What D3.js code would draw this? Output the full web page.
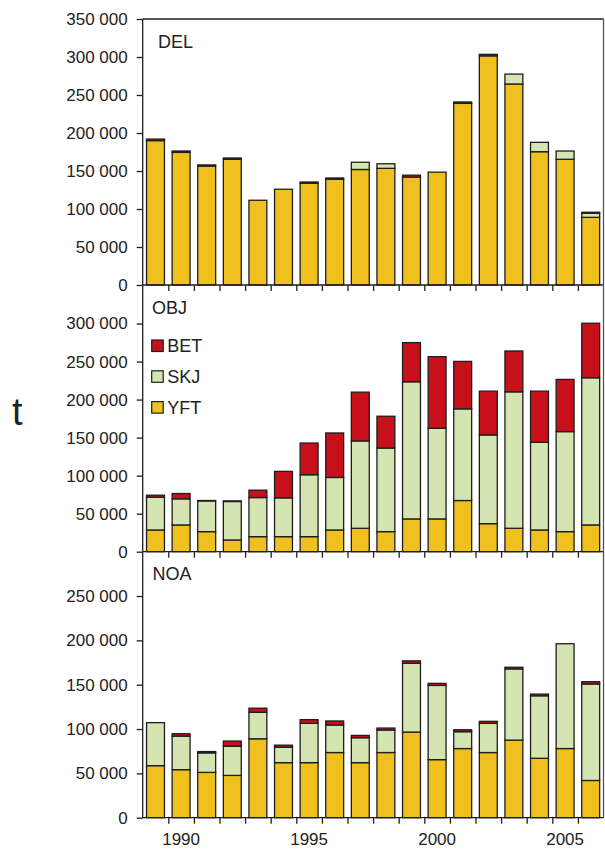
<!DOCTYPE html>
<html>
<head>
<meta charset="utf-8">
<script src="https://cdn.jsdelivr.net/npm/d3@7"></script>
<style>
  html, body { margin: 0; padding: 0; background: #ffffff; }
  svg { display: block; font-family: "Liberation Sans", Arial, sans-serif; }
</style>
</head>
<body>
<svg id="chart" width="605" height="850"></svg>
<script>
// Catch (tonnes) by set type, 1989–2006
const years = d3.range(1989, 2007);
const species = ["YFT", "SKJ", "BET"];
const yearLabels = [1990, 1995, 2000, 2005];

// Dolphin-associated sets
const delYFT = [190000, 174500, 156500, 165500, 111500, 126000, 134000, 139300, 152000, 153500, 142000, 148500, 239000, 301500, 264500, 175400, 165400, 89000];
const delSKJ = [0, 0, 0, 0, 0, 0, 0, 0, 9500, 6000, 0, 0, 0, 0, 13000, 12300, 10900, 5500];
const delBET = [2000, 1800, 1500, 1600, 0, 0, 1500, 1500, 0, 0, 2500, 0, 1800, 2000, 0, 0, 0, 1200];

// Floating-object sets
const objYFT = [28600, 35200, 26400, 15400, 19800, 19800, 19800, 28600, 30800, 26400, 43100, 43100, 67300, 36900, 30800, 28600, 26400, 35200];
const objSKJ = [43100, 34300, 40400, 50600, 51400, 51000, 81400, 69000, 114800, 109900, 180300, 119200, 120500, 116600, 179400, 115200, 131500, 193500];
const objBET = [2600, 7000, 500, 800, 9700, 34800, 41700, 58500, 64200, 41800, 51500, 94100, 62400, 57600, 53700, 67300, 68600, 71700];

// Unassociated sets
const noaYFT = [58700, 54200, 51100, 47700, 89000, 62100, 62100, 73500, 62100, 73500, 96600, 65500, 78000, 73500, 87500, 67000, 78000, 42000];
const noaSKJ = [48500, 37800, 22000, 33000, 29900, 17400, 44300, 31000, 28100, 25400, 77600, 83700, 19000, 32900, 80300, 70500, 118200, 108800];
const noaBET = [0, 2700, 1500, 5700, 4600, 2300, 4200, 4600, 2600, 2200, 2700, 2300, 2200, 2300, 1900, 1900, 0, 2600];

const delTicks = [0, 50000, 100000, 150000, 200000, 250000, 300000, 350000];
const objTicks = [0, 50000, 100000, 150000, 200000, 250000, 300000];
const noaTicks = [0, 50000, 100000, 150000, 200000, 250000];

const colors = { YFT: "#f0c01e", SKJ: "#d5e5b2", BET: "#c8101a" };
const ink = "#1e1e1e";

function rows(yft, skj, bet) {
  return years.map((yr, i) => ({ year: yr, YFT: yft[i], SKJ: skj[i], BET: bet[i] }));
}

const panels = [
  { name: "DEL", data: rows(delYFT, delSKJ, delBET), max: 350000, ticks: delTicks, top: 19, bottom: 285, titleX: 158 },
  { name: "OBJ", data: rows(objYFT, objSKJ, objBET), max: 350000, ticks: objTicks, top: 285.5, bottom: 551.7, titleX: 152 },
  { name: "NOA", data: rows(noaYFT, noaSKJ, noaBET), max: 300000, ticks: noaTicks, top: 551.7, bottom: 817.7, titleX: 152.5 }
];

const left = 142.7, right = 603.5;
const svg = d3.select("#chart");

const x = d3.scaleBand().domain(years).range([left, right]).paddingInner(0.3).paddingOuter(0.15);
const step = x.step();
// continuous year scale for ticks placed between the bars
const xl = d3.scaleLinear().domain([1988.5, 2006.5]).range([left, left + step * years.length]);

const fmt = d3.formatLocale({ decimal: ".", thousands: " ", grouping: [3], currency: ["", ""] }).format(",d");
const stack = d3.stack().keys(species);

panels.forEach(p => {
  const y = d3.scaleLinear().domain([0, p.max]).range([p.bottom, p.top]);
  const g = svg.append("g");

  // stacked bars
  const layers = stack(p.data);
  g.selectAll("g.layer").data(layers).join("g")
    .attr("class", "layer")
    .attr("fill", d => colors[d.key])
    .selectAll("rect").data(d => d.filter(s => s[1] - s[0] > 0)).join("rect")
    .attr("x", d => x(d.data.year))
    .attr("width", x.bandwidth())
    .attr("y", d => y(d[1]))
    .attr("height", d => y(d[0]) - y(d[1]))
    .attr("stroke", ink)
    .attr("stroke-width", 1.3);

  // frame: top edge on the first panel, right edge on all
  if (p.name === "DEL") {
    g.append("line")
      .attr("x1", left).attr("x2", right).attr("y1", p.top).attr("y2", p.top)
      .attr("stroke", ink).attr("stroke-width", 1.3);
  }
  g.append("line")
    .attr("x1", right).attr("x2", right).attr("y1", p.top).attr("y2", p.bottom)
    .attr("stroke", "#555").attr("stroke-width", 1.3);

  // y axis
  const ya = g.append("g").attr("transform", `translate(${left},0)`)
    .call(d3.axisLeft(y).tickValues(p.ticks).tickFormat(fmt).tickSize(6).tickPadding(9));
  ya.select(".domain").attr("stroke", ink).attr("stroke-width", 1.3)
    .attr("d", `M0,${p.top}V${p.bottom}`);
  ya.selectAll(".tick line").attr("stroke", ink).attr("stroke-width", 1.3);
  ya.selectAll(".tick text").attr("fill", "#222").attr("font-size", 17)
    .attr("font-family", "'Liberation Sans', Arial, sans-serif");

  // x axis: ticks between bars
  const xa = g.append("g").attr("transform", `translate(0,${p.bottom})`)
    .call(d3.axisBottom(xl).tickValues(d3.range(1989.5, 2006, 1)).tickFormat("").tickSize(6));
  xa.select(".domain").attr("stroke", ink).attr("stroke-width", 1.3)
    .attr("d", `M${left},0H${right}`);
  xa.selectAll(".tick line").attr("stroke", ink).attr("stroke-width", 1.3);

  // panel title
  g.append("text")
    .attr("x", p.titleX).attr("y", p.top + (p.name === "DEL" ? 29 : 28))
    .attr("font-size", 18).attr("fill", "#222").text(p.name);
});

// year labels under the bottom panel
const labAxis = svg.append("g").attr("transform", `translate(0,${panels[2].bottom})`)
  .call(d3.axisBottom(x).tickValues(yearLabels).tickSize(0).tickPadding(15));
labAxis.select(".domain").remove();
labAxis.selectAll("text").attr("font-size", 17).attr("fill", "#222")
  .attr("font-family", "'Liberation Sans', Arial, sans-serif");

// legend inside the OBJ panel
const legend = svg.append("g").attr("transform", "translate(151.7,340)");
const legendOrder = ["BET", "SKJ", "YFT"];
legendOrder.forEach((k, i) => {
  const row = legend.append("g").attr("transform", `translate(0,${i * 30.8})`);
  row.append("rect").attr("width", 11.5).attr("height", 11.5)
    .attr("fill", colors[k]).attr("stroke", ink).attr("stroke-width", 1.2);
  row.append("text").attr("x", 15.5).attr("y", 5.8).attr("dy", "0.36em")
    .attr("font-size", 18).attr("fill", "#222").text(k);
});

// y axis unit
svg.append("text").attr("x", 12).attr("y", 425)
  .attr("font-size", 38).attr("fill", "#222").text("t");
</script>
</body>
</html>
